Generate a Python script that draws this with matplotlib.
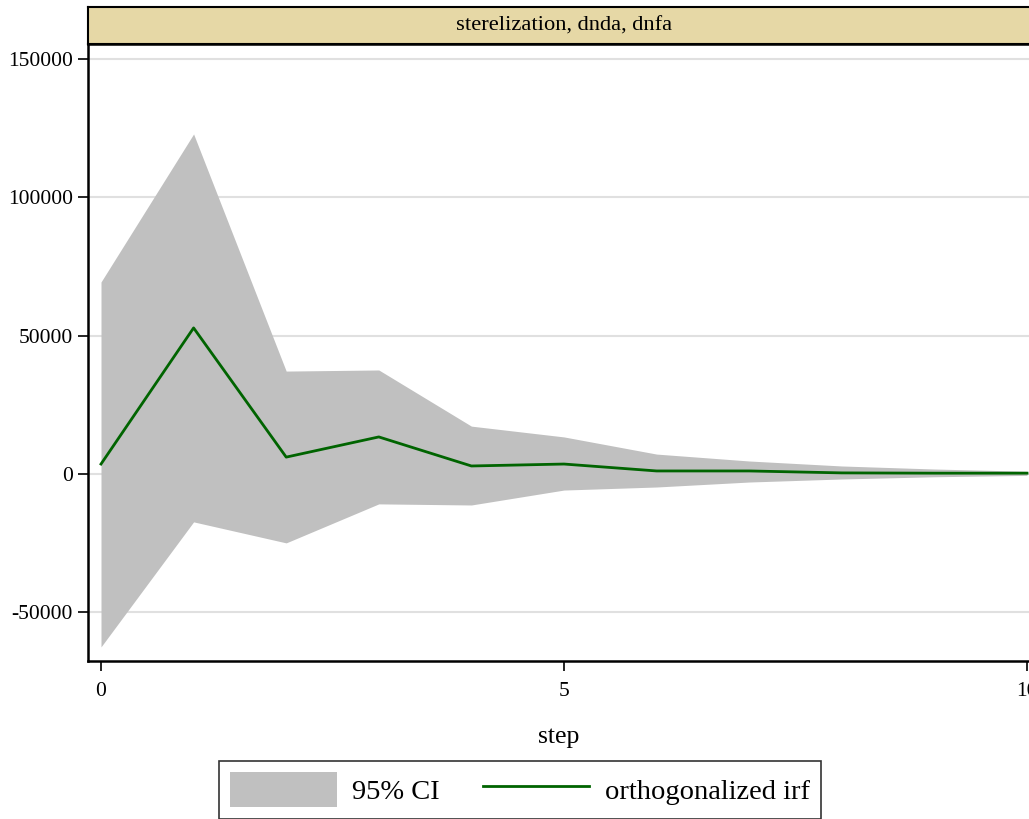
import matplotlib
matplotlib.use("Agg")
import matplotlib.pyplot as plt
from matplotlib.patches import Patch
from matplotlib.lines import Line2D

steps = [0, 1, 2, 3, 4, 5, 6, 7, 8, 9, 10]
irf = [3600, 52800, 6100, 13400, 2900, 3600, 1100, 1100, 400, 300, 300]
ci_upper = [69400, 122900, 37200, 37600, 17300, 13400, 7200, 4700, 2900, 1800, 1000]
ci_lower = [-62500, -17300, -24900, -10800, -11200, -5800, -4700, -2900, -1800, -1000, -500]
yticks = [-50000, 0, 50000, 100000, 150000]
xticks = [0, 5, 10]
panel_title = "sterelization, dnda, dnfa"

plt.rcParams['font.family'] = ['Liberation Serif', 'DejaVu Serif']

W, H = 1029, 819
fig = plt.figure(figsize=(W / 100, H / 100), dpi=100)
fig.patch.set_facecolor('white')

left = 88 / W
ax_bottom = 1 - 661 / H
ax_top = 1 - 44 / H
ax = fig.add_axes([left, ax_bottom, 1.0 - left, ax_top - ax_bottom])

ax.fill_between(steps, ci_lower, ci_upper, color='#c0c0c0', linewidth=0, zorder=2)
ax.plot(steps, irf, color='#006400', linewidth=2.0, zorder=3)

px_per_step = (1027 - 101) / 10
xmin = -(101 - 88) / px_per_step
xmax = 10 + (W - 1027) / px_per_step
ax.set_xlim(xmin, xmax)
px_per_unit = (474 - 59) / 150000
ax.set_ylim(-(661 - 474) / px_per_unit, (474 - 44) / px_per_unit)

ax.set_yticks(yticks)
ax.set_yticklabels([str(v) for v in yticks])
ax.set_xticks(xticks)
ax.set_xticklabels([str(v) for v in xticks])
ax.tick_params(axis='both', direction='out', length=7, width=1.2, labelsize=15.5, colors='black')
ax.tick_params(axis='y', pad=4)
ax.tick_params(axis='x', pad=8)
ax.grid(axis='y', color='#e0e0e0', linewidth=1.5, zorder=1)
ax.set_axisbelow(True)
ax.spines['right'].set_visible(False)
for s in ['left', 'bottom', 'top']:
    ax.spines[s].set_linewidth(1.8)
    ax.spines[s].set_color('black')
ax.set_xlabel('step', fontsize=18.5, labelpad=18)

# strip title
strip_bottom = ax_top
strip_top = 1 - 7 / H
strip_w = 1.0 - left + 0.01
sax = fig.add_axes([left, strip_bottom, strip_w, strip_top - strip_bottom])
sax.set_facecolor('#e6d8a6')
sax.set_xticks([])
sax.set_yticks([])
for s in sax.spines.values():
    s.set_linewidth(1.5)
    s.set_color('black')
sax.text((564 / W - left) / strip_w, 0.48, panel_title, ha='center', va='center',
         fontsize=16.2, transform=sax.transAxes)

handles = [Patch(facecolor='#c0c0c0', edgecolor='none'),
           Line2D([0], [0], color='#006400', linewidth=2.0)]
leg = fig.legend(handles, ['95% CI', 'orthogonalized irf'], loc='upper center',
                 bbox_to_anchor=(520 / W, 1 - 761 / H), ncol=2, fontsize=20.5,
                 frameon=True, fancybox=False, edgecolor='black', handlelength=3.75,
                 handleheight=1.5, handletextpad=0.55, columnspacing=1.5,
                 borderpad=0.4, borderaxespad=0)
leg.get_frame().set_linewidth(1.2)

fig.savefig('out.png', dpi=100, facecolor='white')
